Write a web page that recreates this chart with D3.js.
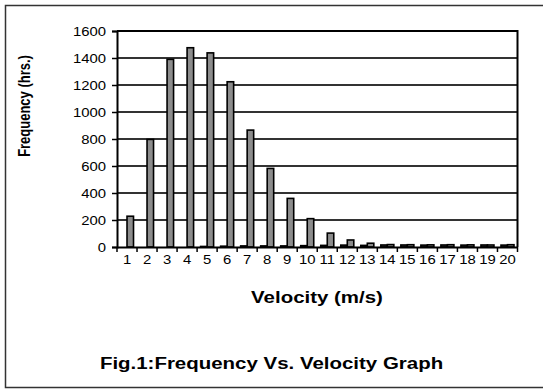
<!DOCTYPE html>
<html>
<head>
<meta charset="utf-8">
<script src="https://d3js.org/d3.v7.min.js"></script>
<style>
  body { margin: 0; background: #fff; }
  text { font-family: "Liberation Sans", Arial, sans-serif; fill: #000; }
</style>
</head>
<body>
<script>
// velocity classes (m/s)
var velocity = ["1","2","3","4","5","6","7","8","9","10","11","12","13","14","15","16","17","18","19","20"];
// two series per class, small one on the left and the main gray one on the right
var seriesNames = ["low", "freq"];
var lowHours  = [0, 0, 0, 0, 4, 6, 8, 8, 8, 10, 12, 14, 12, 15, 15, 14, 15, 14, 15, 14];
var freqHours = [228, 797, 1390, 1476, 1438, 1224, 866, 582, 360, 210, 103, 52, 28, 18, 17, 16, 17, 16, 15, 17];
var yTicks = [0, 200, 400, 600, 800, 1000, 1200, 1400, 1600];

var W = 543, H = 390;
var sx = 1.24; // picture text is stretched sideways

var svg = d3.select("body").append("svg")
    .attr("width", W)
    .attr("height", H);

// outer frame
svg.append("rect")
    .attr("x", 5.5).attr("y", 5.5)
    .attr("width", 545).attr("height", 382)
    .attr("fill", "none")
    .attr("stroke", "#333")
    .attr("stroke-width", 1.5);

var pLeft = 117, pTop = 31, pRight = 517.5, pBottom = 247;

var x = d3.scaleBand().domain(velocity).range([pLeft, pRight]).paddingInner(0).paddingOuter(0);
var x1 = d3.scaleBand().domain(seriesNames).range([0, x.bandwidth()]).paddingInner(0).paddingOuter(0.54);
var y = d3.scaleLinear().domain([0, 1600]).range([pBottom, pTop]);

// gridlines
svg.append("g")
  .selectAll("line")
  .data(yTicks.slice(1, -1))
  .join("line")
    .attr("x1", pLeft).attr("x2", pRight)
    .attr("y1", d => y(d)).attr("y2", d => y(d))
    .attr("stroke", "#333")
    .attr("stroke-width", 1.8);

// top and right border of plot
svg.append("path")
    .attr("d", "M" + pLeft + "," + pTop + "H" + pRight + "V" + pBottom)
    .attr("fill", "none")
    .attr("stroke", "#000")
    .attr("stroke-width", 2);

// bars
var rows = velocity.map(function(v, i) {
  return { v: v, vals: [{ s: "low", h: lowHours[i] }, { s: "freq", h: freqHours[i] }] };
});

var grp = svg.append("g").selectAll("g")
  .data(rows)
  .join("g")
    .attr("transform", d => "translate(" + x(d.v) + ",0)");

grp.selectAll("rect")
  .data(d => d.vals.filter(e => e.h > 0))
  .join("rect")
    .attr("x", d => x1(d.s))
    .attr("y", d => y(d.h))
    .attr("width", x1.bandwidth())
    .attr("height", d => pBottom - y(d.h))
    .attr("fill", d => d.s == "freq" ? "#8c8c8c" : "#333")
    .attr("stroke", "#000")
    .attr("stroke-width", 1.6);

// y axis
var yAxis = svg.append("g")
    .attr("transform", "translate(" + pLeft + ",0)")
    .call(d3.axisLeft(y).tickValues(yTicks).tickFormat(d3.format("d")).tickSize(5).tickPadding(6));
yAxis.select(".domain").attr("stroke", "#000").attr("stroke-width", 2);
yAxis.selectAll(".tick line").attr("stroke", "#000").attr("stroke-width", 1.5);
yAxis.selectAll(".tick text")
    .style("font-size", "12px")
    .attr("x", -11 / sx)
    .attr("dy", "0.36em")
    .attr("transform", "scale(" + sx + ",1)");

// x axis
var xAxis = svg.append("g")
    .attr("transform", "translate(0," + pBottom + ")")
    .call(d3.axisBottom(x).tickSize(0).tickPadding(8));
xAxis.select(".domain").attr("stroke", "#000").attr("stroke-width", 2);
xAxis.selectAll(".tick text")
    .style("font-size", "12px")
    .attr("transform", "scale(" + sx + ",1)");

// x tick marks at category boundaries
svg.append("g")
  .selectAll("line")
  .data(velocity)
  .join("line")
    .attr("x1", d => x(d)).attr("x2", d => x(d))
    .attr("y1", pBottom).attr("y2", pBottom + 5)
    .attr("stroke", "#000")
    .attr("stroke-width", 1.5);
svg.append("line")
    .attr("x1", pRight).attr("x2", pRight)
    .attr("y1", pBottom).attr("y2", pBottom + 5)
    .attr("stroke", "#000").attr("stroke-width", 1.5);

// titles
svg.append("text")
    .attr("transform", "translate(317,302.5) scale(" + sx + ",1)")
    .attr("text-anchor", "middle")
    .style("font-size", "16.5px")
    .style("font-weight", "bold")
    .text("Velocity (m/s)");

svg.append("text")
    .attr("transform", "translate(30,106) scale(" + sx + ",1) rotate(-90)")
    .attr("text-anchor", "middle")
    .style("font-size", "13px")
    .style("font-weight", "bold")
    .text("Frequency (hrs.)");

svg.append("text")
    .attr("transform", "translate(271.5,368.5) scale(" + sx + ",1)")
    .attr("text-anchor", "middle")
    .style("font-size", "16.5px")
    .style("font-weight", "bold")
    .text("Fig.1:Frequency Vs. Velocity Graph");
</script>
</body>
</html>
